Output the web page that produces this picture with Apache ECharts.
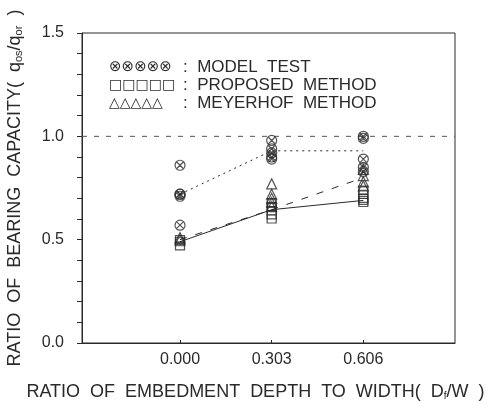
<!DOCTYPE html>
<html>
<head>
<meta charset="utf-8">
<script src="https://cdn.jsdelivr.net/npm/echarts@6/dist/echarts.min.js"></script>
<style>
  html, body { margin: 0; padding: 0; background: #fff; }
  #chart { width: 489px; height: 401px; }
</style>
</head>
<body>
<div id="chart"></div>
<script>
// Embedment depth ratios Df/W
const depthRatios = [0.000, 0.303, 0.606];
const depthLabels = ['0.000', '0.303', '0.606'];
const yTickLabels = [0.0, 0.5, 1.0, 1.5];

// Individual results at each depth ratio
const modelTest = [
  [0.86, 0.72, 0.72, 0.71, 0.57],
  [0.98, 0.94, 0.92, 0.90, 0.89],
  [1.00, 0.99, 0.89, 0.85, 0.83]
];
const proposedMethod = [
  [0.50, 0.49, 0.47],
  [0.68, 0.66, 0.64, 0.62, 0.60],
  [0.74, 0.72, 0.70, 0.69, 0.68]
];
const meyerhofMethod = [
  [0.51, 0.50],
  [0.77, 0.72, 0.70, 0.68, 0.66],
  [0.84, 0.81, 0.78, 0.76]
];

// Trend lines through each group
const modelTestLine = [0.72, 0.93, 0.93];
const proposedLine = [0.49, 0.645, 0.69];
const meyerhofLine = [0.50, 0.645, 0.80];

const referenceRatio = 1.0;

const ink = '#2a2a2a';
const fontFamily = '"Liberation Sans", "DejaVu Sans", sans-serif';

function toPoints(groups) {
  const pts = [];
  groups.forEach((vals, i) => vals.forEach(v => pts.push([depthRatios[i], v])));
  return pts;
}
function toLine(vals) {
  return vals.map((v, i) => [depthRatios[i], v]);
}

// circle with a cross inside
const crossCircle = 'path://M0,-10A10,10 0 1,1 0,10A10,10 0 1,1 0,-10ZM-7,-7L7,7M7,-7L-7,7';

const chart = echarts.init(document.getElementById('chart'), null, { renderer: 'canvas' });

chart.setOption({
  animation: false,
  backgroundColor: '#fff',
  grid: {
    left: 82, right: 34, top: 33, bottom: 58,
    outerBoundsMode: 'none',
    containLabel: false,
    show: true, borderColor: ink, borderWidth: 1, backgroundColor: 'transparent'
  },
  xAxis: {
    type: 'value',
    min: -0.324, max: 0.909,
    splitLine: { show: false },
    axisLine: { show: true, onZero: false, lineStyle: { color: ink, width: 1 } },
    axisTick: { show: true, inside: true, length: 3, customValues: depthRatios, lineStyle: { color: ink } },
    axisLabel: {
      customValues: depthRatios,
      formatter: v => depthLabels[depthRatios.findIndex(d => Math.abs(d - v) < 1e-6)] || '',
      color: ink, fontSize: 16, fontFamily, margin: 9
    },
    name: 'RATIO  OF  EMBEDMENT  DEPTH  TO  WIDTH(  D{sub|f}/W  )',
    nameLocation: 'middle',
    nameGap: 40,
    nameTextStyle: {
      color: ink, fontSize: 18, fontFamily, align: 'center',
      padding: [0, 26, 0, 0],
      rich: { sub: { fontSize: 10, verticalAlign: 'bottom', padding: [7, 0, 0, 0], color: ink, fontFamily } }
    }
  },
  yAxis: {
    type: 'value',
    min: 0, max: 1.5, interval: 0.1,
    splitLine: { show: false },
    axisLine: { show: true, onZero: false, lineStyle: { color: ink, width: 1 } },
    axisTick: { show: true, length: 5, lineStyle: { color: ink, width: 1 } },
    axisLabel: {
      formatter: v => yTickLabels.some(t => Math.abs(t - v) < 1e-6) ? v.toFixed(1) : '',
      color: ink, fontSize: 16, fontFamily, margin: 18
    },
    name: 'RATIO  OF  BEARING  CAPACITY(  q{sub|os}/q{sub|or}  )',
    nameLocation: 'middle',
    nameRotate: 90,
    nameGap: 58,
    nameTextStyle: {
      color: ink, fontSize: 18, fontFamily,
      rich: { sub: { fontSize: 11, verticalAlign: 'bottom', padding: [7, 0, 0, 0], color: ink, fontFamily } }
    }
  },
  graphic: [
    {
      type: 'group', left: 109, top: 59,
      children: [
        { type: 'text', x: 0, y: 0, style: { text: '⊗⊗⊗⊗⊗', font: '15px "DejaVu Sans"', fill: ink } },
        { type: 'text', x: 0, y: 18, style: { text: '□□□□□', font: '14px "DejaVu Sans"', fill: ink } },
        { type: 'text', x: 0, y: 36, style: { text: '△△△△△', font: '14px "DejaVu Sans"', fill: ink } },
        { type: 'text', x: 74, y: -1, style: { text: ':  MODEL  TEST', font: '17px "Liberation Sans"', fill: ink } },
        { type: 'text', x: 74, y: 17, style: { text: ':  PROPOSED  METHOD', font: '17px "Liberation Sans"', fill: ink } },
        { type: 'text', x: 74, y: 35, style: { text: ':  MEYERHOF  METHOD', font: '17px "Liberation Sans"', fill: ink } }
      ]
    }
  ],
  series: [
    {
      name: 'reference',
      type: 'line',
      data: [[-0.324, referenceRatio], [0.909, referenceRatio]],
      symbol: 'none',
      lineStyle: { color: '#555', width: 1, type: [5, 7] },
      silent: true, z: 1
    },
    {
      name: 'MODEL TEST line',
      type: 'line',
      data: toLine(modelTestLine),
      symbol: 'none',
      lineStyle: { color: ink, width: 1, type: [2, 4] },
      z: 2
    },
    {
      name: 'PROPOSED METHOD line',
      type: 'line',
      data: toLine(proposedLine),
      symbol: 'none',
      lineStyle: { color: ink, width: 1 },
      z: 2
    },
    {
      name: 'MEYERHOF METHOD line',
      type: 'line',
      data: toLine(meyerhofLine),
      symbol: 'none',
      lineStyle: { color: ink, width: 1, type: [7, 9] },
      z: 2
    },
    {
      name: 'MODEL TEST',
      type: 'scatter',
      data: toPoints(modelTest),
      symbol: crossCircle,
      symbolSize: 10,
      itemStyle: { color: 'transparent', borderColor: ink, borderWidth: 1.2 },
      z: 3
    },
    {
      name: 'PROPOSED METHOD',
      type: 'scatter',
      data: toPoints(proposedMethod),
      symbol: 'rect',
      symbolSize: [9, 8],
      itemStyle: { color: 'transparent', borderColor: ink, borderWidth: 1.2 },
      z: 3
    },
    {
      name: 'MEYERHOF METHOD',
      type: 'scatter',
      data: toPoints(meyerhofMethod),
      symbol: 'triangle',
      symbolSize: 10,
      itemStyle: { color: 'transparent', borderColor: ink, borderWidth: 1.2 },
      z: 3
    }
  ]
});
</script>
</body>
</html>
